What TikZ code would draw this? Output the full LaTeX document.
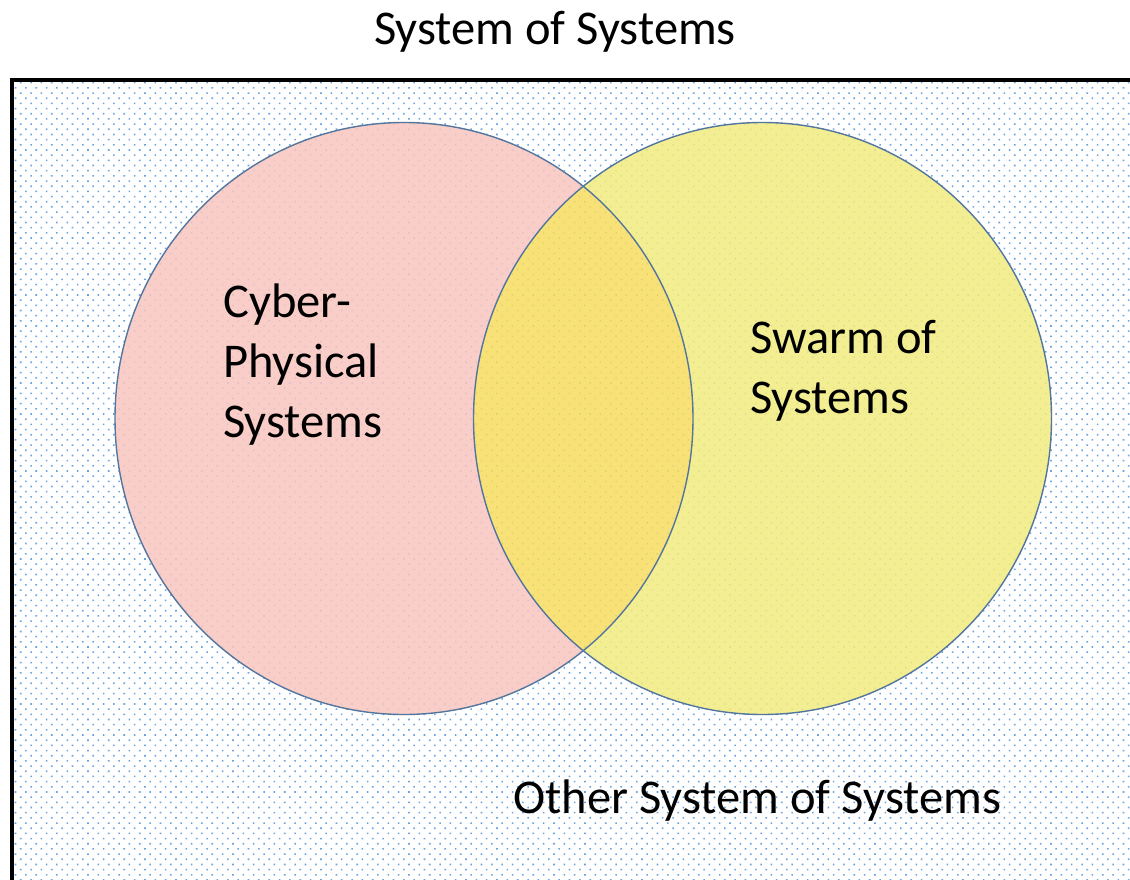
\documentclass[tikz,border=0pt]{standalone}
\usepackage{fontspec}
\setmainfont{Carlito}
\usetikzlibrary{patterns.meta}

\definecolor{cpsfill}{RGB}{249,198,192}
\definecolor{swarmfill}{RGB}{242,236,128}
\definecolor{bothfill}{RGB}{247,221,96}
\definecolor{rimblue}{RGB}{84,118,158}
\definecolor{dotblue}{RGB}{70,140,215}

\tikzset{
  label text/.style={font=\fontsize{34.5}{42.5}\selectfont, inner sep=0pt, align=left},
  set rim/.style={draw=rimblue, line width=1pt},
  dot field/.style={pattern={Dots[distance=0.183cm, angle=45, radius=0.028cm]}, pattern color=dotblue}
}

\begin{document}
\begin{tikzpicture}[x=0.025cm, y=-0.025cm]
    \useasboundingbox (0,0) rectangle (1130,880);
    \clip (0,0) rectangle (1130,880);
    % the outer frame with its dotted ground
    \fill[white] (0,0) rectangle (1130,880);
    \fill[dot field, opacity=0.8] (12,80) rectangle (1140,890);
    \draw[line width=2.8pt] (12,890) -- (12,80) -- (1140,80);
    % circle centres
    \coordinate (cps) at (404,418.5);
    \coordinate (sos) at (762.5,418.5);
    \def\set{ellipse (289 and 296)}
    % left part only
    \begin{scope}
      \clip (cps) \set;
      \fill[cpsfill, fill opacity=0.86, even odd rule] (cps) \set (sos) \set;
    \end{scope}
    % right part only
    \begin{scope}
      \clip (sos) \set;
      \fill[swarmfill, fill opacity=0.86, even odd rule] (cps) \set (sos) \set;
    \end{scope}
    % overlap
    \begin{scope}
      \clip (cps) \set;
      \fill[bothfill, fill opacity=0.86] (sos) \set;
    \end{scope}
    \draw[set rim] (cps) \set;
    \draw[set rim] (sos) \set;
    % labels
    \node[label text, anchor=base] (title) at (555,45) {System of Systems};
    \node[label text, anchor=base west] (cpslabel) at (223,437) {Cyber-\\Physical\\Systems};
    \node[label text, anchor=base west] (swarmlabel) at (750,413) {Swarm of\\Systems};
    \node[label text, anchor=base west] (otherlabel) at (513,813) {Other System of Systems};
\end{tikzpicture}
\end{document}
